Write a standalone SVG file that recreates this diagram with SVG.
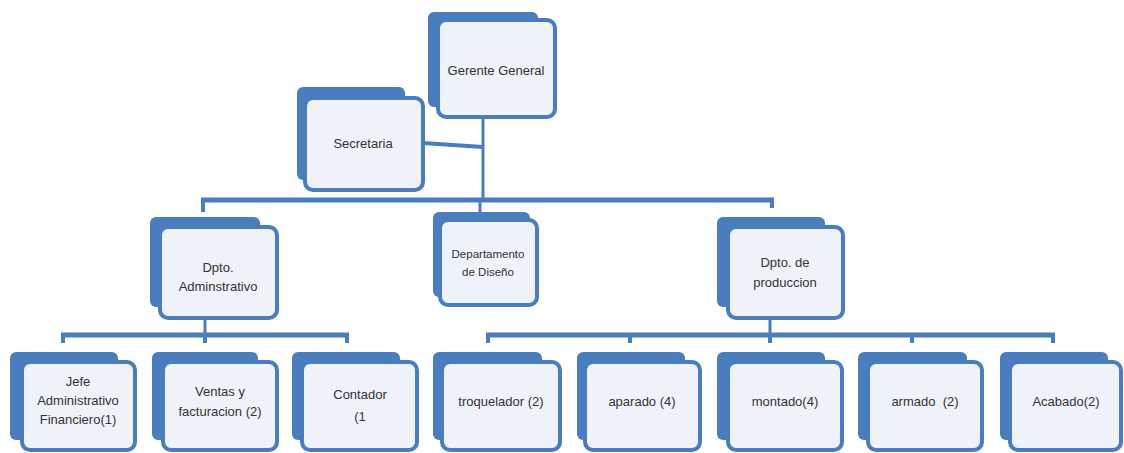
<svg xmlns="http://www.w3.org/2000/svg" width="1124" height="453" viewBox="0 0 1124 453">
<style>
.bk{fill:#4a7dbe;}
.fr{fill:#eff2f8;stroke:#4a7dbe;stroke-width:4;}
.t{font-family:"Liberation Sans",Arial,sans-serif;font-size:13px;fill:#333;text-anchor:middle;}
.s{font-size:11.5px;}
.ln{stroke:#4a7dbe;fill:none;stroke-linecap:butt;}
</style>
<rect width="1124" height="453" fill="#ffffff"/>
<g id="connectors">
<line class="ln" x1="483" y1="117" x2="483" y2="200" stroke-width="3"/>
<line class="ln" x1="423" y1="143" x2="483" y2="147" stroke-width="4"/>
<line class="ln" x1="201" y1="200" x2="774" y2="200" stroke-width="5"/>
<line class="ln" x1="203" y1="200" x2="203" y2="212" stroke-width="4"/>
<line class="ln" x1="480" y1="200" x2="480" y2="220" stroke-width="3"/>
<line class="ln" x1="772" y1="200" x2="772" y2="208" stroke-width="4"/>
<line class="ln" x1="205" y1="318" x2="205" y2="335" stroke-width="3"/>
<line class="ln" x1="61" y1="335" x2="349" y2="335" stroke-width="5"/>
<line class="ln" x1="63" y1="335" x2="63" y2="343" stroke-width="4"/>
<line class="ln" x1="205" y1="335" x2="205" y2="343" stroke-width="4"/>
<line class="ln" x1="347" y1="335" x2="347" y2="343" stroke-width="4"/>
<line class="ln" x1="770" y1="318" x2="770" y2="335" stroke-width="3"/>
<line class="ln" x1="486" y1="335" x2="1055" y2="335" stroke-width="5"/>
<line class="ln" x1="488" y1="335" x2="488" y2="343" stroke-width="4"/>
<line class="ln" x1="630" y1="335" x2="630" y2="343" stroke-width="4"/>
<line class="ln" x1="770" y1="335" x2="770" y2="343" stroke-width="4"/>
<line class="ln" x1="912" y1="335" x2="912" y2="343" stroke-width="4"/>
<line class="ln" x1="1053" y1="335" x2="1053" y2="343" stroke-width="4"/>
</g>
<g id="gerente">
<rect class="bk" x="428" y="12" width="110" height="95" rx="6"/>
<rect class="fr" x="438" y="20" width="117" height="97" rx="8"/>
<text class="t" x="496" y="75">Gerente General</text>
</g>
<g id="secretaria">
<rect class="bk" x="297" y="87" width="108" height="93" rx="6"/>
<rect class="fr" x="305" y="98" width="118" height="92" rx="8"/>
<text class="t" x="363" y="148">Secretaria</text>
</g>
<g id="dpto-adm">
<rect class="bk" x="150" y="217" width="110" height="90" rx="6"/>
<rect class="fr" x="160" y="227" width="117" height="91" rx="8"/>
<text class="t" x="218" y="272">Dpto.</text>
<text class="t" x="218" y="291">Adminstrativo</text>
</g>
<g id="diseno">
<rect class="bk" x="433" y="212" width="97" height="85" rx="6"/>
<rect class="fr" x="440" y="220" width="97" height="85" rx="8"/>
<text class="t s" x="488" y="258">Departamento</text>
<text class="t s" x="488" y="276">de Diseño</text>
</g>
<g id="dpto-prod">
<rect class="bk" x="717" y="217" width="108" height="90" rx="6"/>
<rect class="fr" x="728" y="227" width="115" height="91" rx="8"/>
<text class="t" x="785" y="267">Dpto. de</text>
<text class="t" x="785" y="287">produccion</text>
</g>
<g id="jefe">
<rect class="bk" x="10" y="352" width="108" height="88" rx="6"/>
<rect class="fr" x="22" y="362" width="113" height="88" rx="8"/>
<text class="t" x="78" y="386">Jefe</text>
<text class="t" x="78" y="405">Administrativo</text>
<text class="t" x="78" y="424">Financiero(1)</text>
</g>
<g id="ventas">
<rect class="bk" x="152" y="352" width="106" height="88" rx="6"/>
<rect class="fr" x="163" y="362" width="114" height="88" rx="8"/>
<text class="t" x="220" y="396">Ventas y</text>
<text class="t" x="220" y="416">facturacion (2)</text>
</g>
<g id="contador">
<rect class="bk" x="292" y="352" width="108" height="88" rx="6"/>
<rect class="fr" x="302" y="362" width="115" height="88" rx="8"/>
<text class="t" x="360" y="399">Contador</text>
<text class="t" x="360" y="421">(1</text>
</g>
<g id="troquelador">
<rect class="bk" x="433" y="352" width="109" height="88" rx="6"/>
<rect class="fr" x="442" y="362" width="118" height="88" rx="8"/>
<text class="t" x="501" y="406">troquelador (2)</text>
</g>
<g id="aparado">
<rect class="bk" x="577" y="352" width="108" height="88" rx="6"/>
<rect class="fr" x="585" y="362" width="115" height="88" rx="8"/>
<text class="t" x="642" y="406">aparado (4)</text>
</g>
<g id="montado">
<rect class="bk" x="717" y="352" width="108" height="88" rx="6"/>
<rect class="fr" x="728" y="362" width="114" height="88" rx="8"/>
<text class="t" x="785" y="406">montado(4)</text>
</g>
<g id="armado">
<rect class="bk" x="858" y="352" width="109" height="88" rx="6"/>
<rect class="fr" x="868" y="362" width="114" height="88" rx="8"/>
<text class="t" x="925" y="406" xml:space="preserve">armado  (2)</text>
</g>
<g id="acabado">
<rect class="bk" x="1000" y="352" width="108" height="88" rx="6"/>
<rect class="fr" x="1010" y="362" width="111" height="88" rx="8"/>
<text class="t" x="1066" y="406">Acabado(2)</text>
</g>
</svg>
